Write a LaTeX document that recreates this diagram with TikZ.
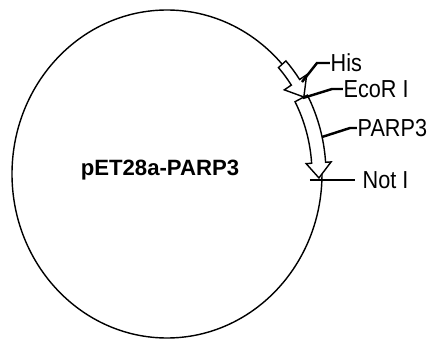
\documentclass[tikz,border=0pt]{standalone}
\usepackage{fontspec}
\setmainfont{Liberation Sans}
\newfontfamily\lblfont[FakeStretch=0.88]{Liberation Sans}
\usetikzlibrary{arrows}

\begin{document}
\begin{tikzpicture}[
  leader/.style={black, line width=0.7pt},
  lbl/.style={anchor=west, inner sep=0pt, font=\lblfont\fontsize{7}{8}\selectfont},
  blockarrow/.style={black, line width=0.4pt, fill=white, line join=miter}]
  \useasboundingbox (0,0) rectangle (4.29,3.40);
  \draw[black, line width=0.4pt] (1.67,1.66) ellipse [x radius=1.55, y radius=1.64];
  \node[font=\bfseries\fontsize{6.3}{7}\selectfont] (name) at (1.60,1.70) {pET28a-PARP3};
  \begin{scope}[shift={(1.67,1.66)}]
    \draw[blockarrow] (42:1.60 and 1.69) arc[start angle=42, end angle=34, x radius=1.60, y radius=1.69]
      -- (34:1.685 and 1.775) -- (28:1.55 and 1.64) -- (34:1.415 and 1.505) -- (34:1.50 and 1.59)
      arc[start angle=34, end angle=42, x radius=1.50, y radius=1.59] -- cycle;
    \draw[blockarrow] (28:1.59 and 1.68) arc[start angle=28, end angle=4, x radius=1.59, y radius=1.68]
      -- (4:1.645 and 1.735) -- (-1.4:1.52 and 1.61) -- (4:1.395 and 1.485) -- (4:1.45 and 1.54)
      arc[start angle=4, end angle=28, x radius=1.45, y radius=1.54] -- cycle;
  \end{scope}
  \node[lbl] (his) at (3.30,2.77) {His};
  \node[lbl] (ecor) at (3.43,2.51) {EcoR I};
  \node[lbl] (parp) at (3.57,2.12) {PARP3};
  \node[lbl] (noti) at (3.62,1.60) {Not I};
  \coordinate (hisfoot) at (3.02,2.58);
  \coordinate (hisbend) at (3.17,2.77);
  \coordinate (ecorfoot) at (3.03,2.42);
  \coordinate (ecorbend) at (3.32,2.51);
  \coordinate (parpfoot) at (3.22,2.03);
  \coordinate (parpbend) at (3.50,2.12);
  \coordinate (notifoot) at (3.10,1.60);
  \draw[leader] (hisfoot) -- (hisbend) -- (his.west);
  \draw[leader] (ecorfoot) -- (ecorbend) -- (ecor.west);
  \draw[leader] (parpfoot) -- (parpbend) -- (parp.west);
  \draw[leader] (notifoot) -- ([xshift=-2pt]noti.west);
\end{tikzpicture}
\end{document}
